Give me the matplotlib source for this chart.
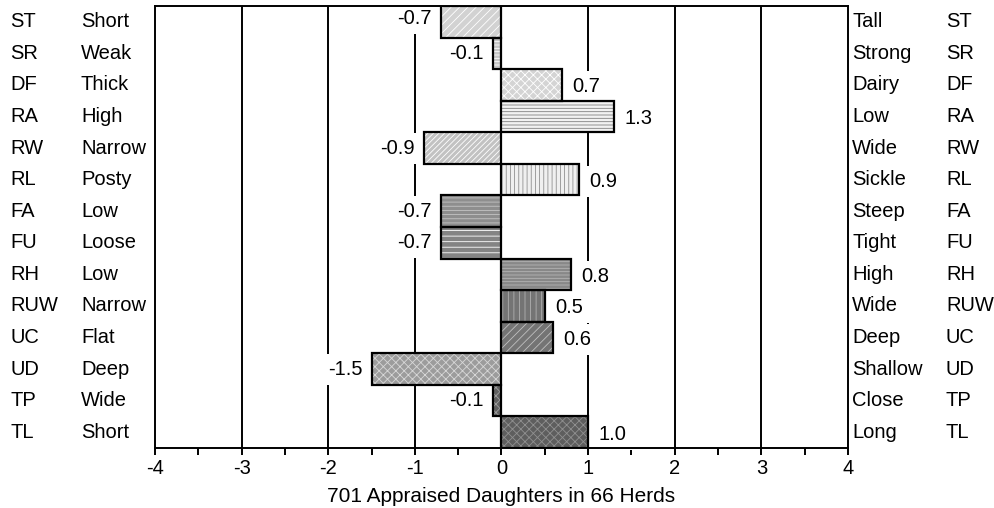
import matplotlib
matplotlib.use("Agg")
import matplotlib.pyplot as plt
import numpy as np

plt.rcParams['font.family'] = ['Liberation Sans', 'DejaVu Sans']
plt.rcParams['hatch.linewidth'] = 0.6

codes = ["ST", "SR", "DF", "RA", "RW", "RL", "FA", "FU", "RH", "RUW", "UC", "UD", "TP", "TL"]
left_terms = ["Short", "Weak", "Thick", "High", "Narrow", "Posty", "Low", "Loose", "Low",
              "Narrow", "Flat", "Deep", "Wide", "Short"]
right_terms = ["Tall", "Strong", "Dairy", "Low", "Wide", "Sickle", "Steep", "Tight", "High",
               "Wide", "Deep", "Shallow", "Close", "Long"]
values = [-0.7, -0.1, 0.7, 1.3, -0.9, 0.9, -0.7, -0.7, 0.8, 0.5, 0.6, -1.5, -0.1, 1.0]
value_labels = ["-0.7", "-0.1", "0.7", "1.3", "-0.9", "0.9", "-0.7", "-0.7", "0.8", "0.5",
                "0.6", "-1.5", "-0.1", "1.0"]
xticks = [-4, -3, -2, -1, 0, 1, 2, 3, 4]
xlabel = "701 Appraised Daughters in 66 Herds"

faces = ['#d2d2d2', '#c6c6c6', '#d4d4d4', '#f2f2f2', '#c2c2c2', '#f0f0f0', '#8e8e8e',
         '#848484', '#888888', '#747474', '#747474', '#9c9c9c', '#606060', '#5e5e5e']
hatches = ['////', '-----', 'xxxx', '-----', '//////', '||||', '----', '---', '-----',
           '|||', '////', 'xxxx', 'xxxx', 'xxxx']
hatch_cols = ['white', 'white', 'white', '#808080', 'white', '#909090', '#c4c4c4', 'white',
              '#b4b4b4', '#b0b0b0', '#c0c0c0', '#d8d8d8', '#a0a0a0', '#909090']

FS = 14.5

fig = plt.figure(figsize=(9.95, 5.08), dpi=100)
ax = fig.add_axes([155/995, 1-448/508, 693/995, 442/508])

y = np.arange(len(codes))
ax.barh(y, values, height=1.0, color=faces, edgecolor='none', linewidth=0, zorder=3)
hb = ax.barh(y, values, height=1.0, color='none', linewidth=0, zorder=3.1)
for p, h, c in zip(hb, hatches, hatch_cols):
    p.set_hatch(h)
    p.set_edgecolor(c)
ax.barh(y, values, height=1.0, color='none', edgecolor='black', linewidth=1.6, zorder=3.2)

for xv in xticks[1:-1]:
    ax.axvline(xv, color='black', linewidth=1.4, zorder=1)

for yi, v, lab in zip(y, values, value_labels):
    dy = -3 if yi == 0 else 0
    if v >= 0:
        ax.annotate(lab, (v, yi), xytext=(10, -2), textcoords='offset pixels', ha='left',
                    va='center', fontsize=FS,
                    bbox=dict(boxstyle='square,pad=0.3', fc='white', ec='none'), zorder=2)
    else:
        ax.annotate(lab, (v, yi), xytext=(-9, -dy), textcoords='offset pixels', ha='right',
                    va='center', fontsize=FS,
                    bbox=dict(boxstyle='square,pad=0.3', fc='white', ec='none'), zorder=2)

tr = ax.get_yaxis_transform()
for yi, c, lt, rt in zip(y, codes, left_terms, right_terms):
    ax.text(-0.209, yi, c, transform=tr, ha='left', va='center', fontsize=FS, clip_on=False)
    ax.text(-0.1068, yi, lt, transform=tr, ha='left', va='center', fontsize=FS, clip_on=False)
    ax.text(1.0058, yi, rt, transform=tr, ha='left', va='center', fontsize=FS, clip_on=False)
    ax.text(1.1414, yi, c, transform=tr, ha='left', va='center', fontsize=FS, clip_on=False)

ax.set_xlim(-4, 4)
ax.set_ylim(len(codes) - 0.5, -0.5)
ax.set_yticks([])
ax.set_xticks(xticks)
ax.set_xticklabels([str(t) for t in xticks], fontsize=FS)
ax.set_xticks(np.arange(-3.5, 4, 1.0), minor=True)
ax.tick_params(axis='x', which='both', direction='out', length=5, width=1.4, pad=3)
for s in ax.spines.values():
    s.set_linewidth(1.4)
ax.set_xlabel(xlabel, fontsize=15, labelpad=6.5)

fig.savefig("out.png", dpi=100, facecolor='white')
